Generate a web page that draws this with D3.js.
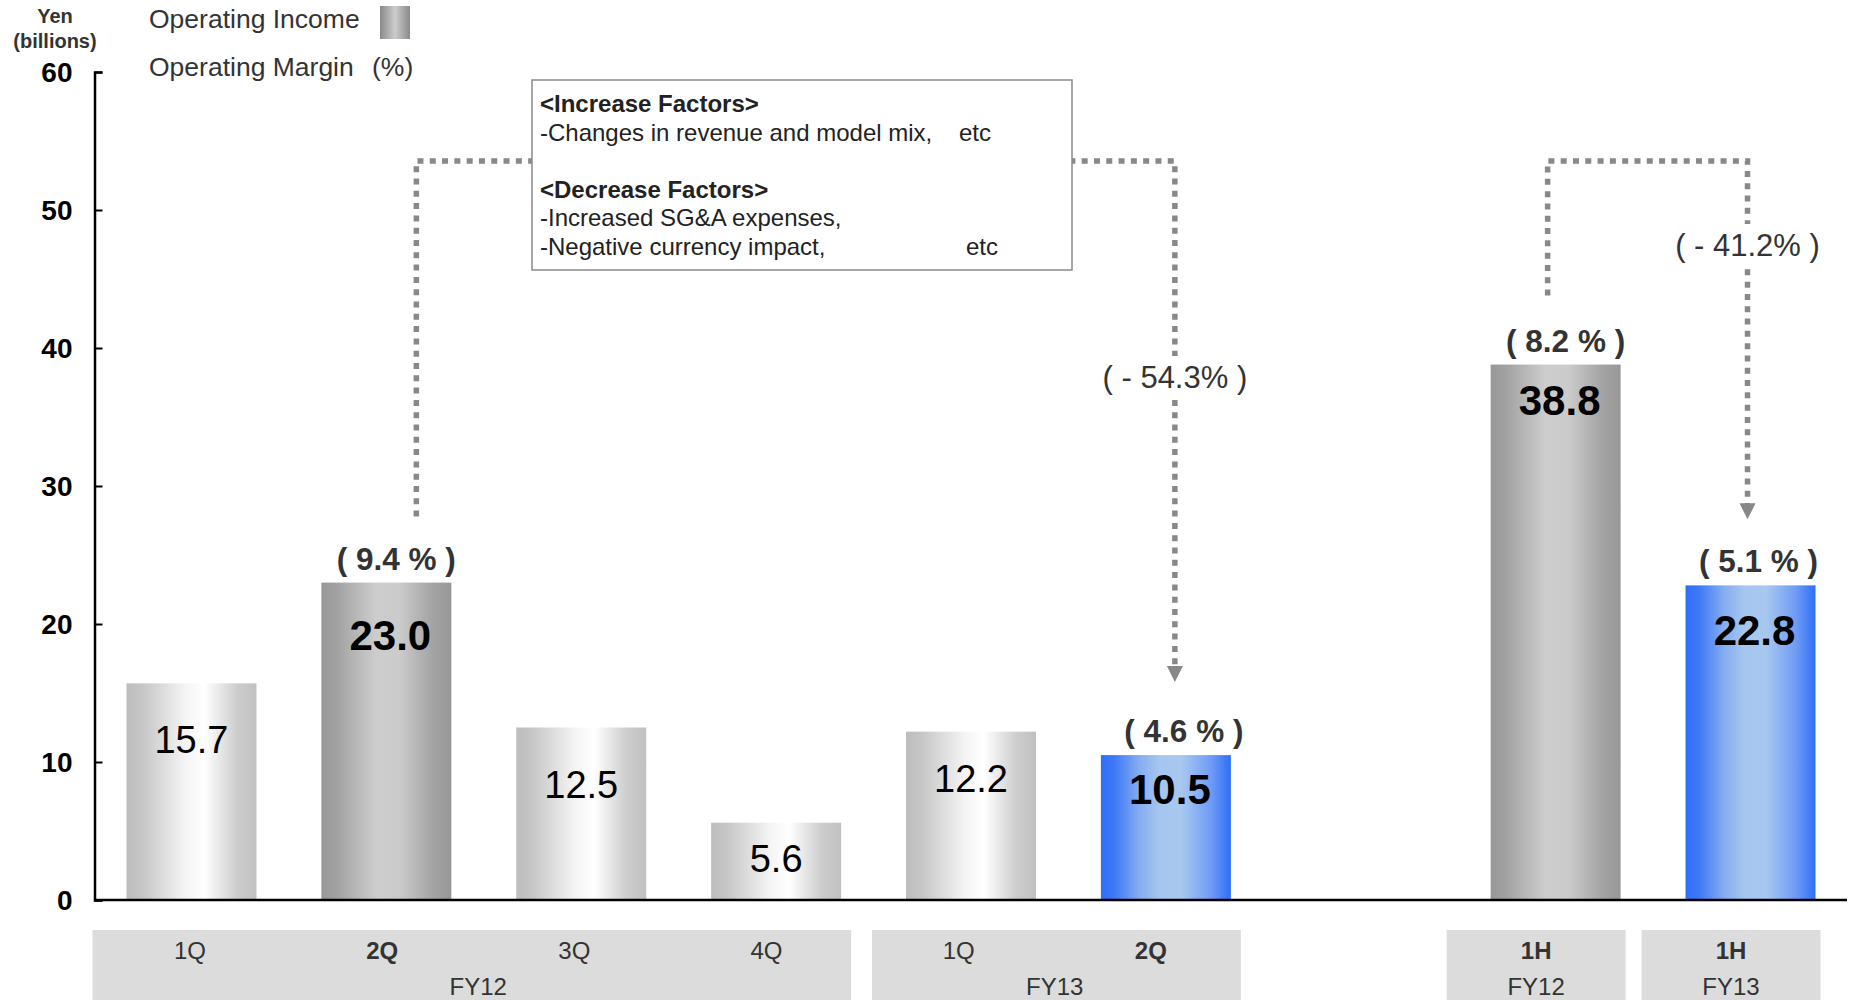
<!DOCTYPE html>
<html>
<head>
<meta charset="utf-8">
<script src="https://cdn.jsdelivr.net/npm/d3@7"></script>
<style>
  html, body { margin: 0; padding: 0; background: #fff; }
  svg { display: block; font-family: "Liberation Sans", Arial, sans-serif; }
</style>
</head>
<body>
<svg id="chart" width="1854" height="1000"></svg>
<script>
// Operating income by period (yen, billions) and operating margin (%)
const periods         = ["1Q", "2Q", "3Q", "4Q", "1Q", "2Q", "1H", "1H"];
const fiscalYears     = ["FY12", "FY12", "FY12", "FY12", "FY13", "FY13", "FY12", "FY13"];
const spans           = ["quarter", "quarter", "quarter", "quarter", "quarter", "quarter", "half", "half"];
const operatingIncome = [15.7, 23.0, 12.5, 5.6, 12.2, 10.5, 38.8, 22.8];
const operatingMargin = [null, 9.4, null, null, null, 4.6, 8.2, 5.1];
// which periods are compared year on year
const comparison      = ["", "prior", "", "", "", "current", "prior", "current"];

const yTicks = [0, 10, 20, 30, 40, 50, 60];

// year-on-year change arrows
const changeFrom = ["FY12 2Q", "FY12 1H"];
const changeTo   = ["FY13 2Q", "FY13 1H"];
const changePct  = [-54.3, -41.2];

const increaseFactors = ["Changes in revenue and model mix,"];
const decreaseFactors = ["Increased SG&A expenses,", "Negative currency impact,"];

const rows = periods.map((p, i) => ({
  id: fiscalYears[i] + " " + p,
  period: p,
  fy: fiscalYears[i],
  span: spans[i],
  value: operatingIncome[i],
  margin: operatingMargin[i],
  role: comparison[i]
}));

// slot order: quarters, an empty slot, then half-years
const slots = [
  ...rows.filter(d => d.span === "quarter").map(d => d.id),
  "spacer",
  ...rows.filter(d => d.span === "half").map(d => d.id)
];

const svg = d3.select("#chart");
const x = d3.scaleBand().domain(slots).range([107, 1835]).paddingInner(0.333).paddingOuter(0.1);
const y = d3.scaleLinear().domain([0, 60]).range([900, 72]);
const cx = id => x(id) + x.bandwidth() / 2;
const byId = new Map(rows.map(d => [d.id, d]));

// gradients
const defs = svg.append("defs");
const gradients = {
  light: [[0, "#bdbdbd"], [0.12, "#c6c6c6"], [0.45, "#f4f4f4"], [0.6, "#ffffff"], [0.85, "#cdcdcd"], [1, "#c1c1c1"]],
  dark:  [[0, "#989898"], [0.12, "#a2a2a2"], [0.42, "#cdcdcd"], [0.6, "#cbcbcb"], [0.86, "#a3a3a3"], [1, "#979797"]],
  blue:  [[0, "#2e6ef8"], [0.1, "#3d78f6"], [0.3, "#86aef0"], [0.45, "#a6c6ef"], [0.62, "#a8c8f0"], [0.85, "#6f9bf5"], [1, "#2e6ef8"]],
  swatch:[[0, "#8a8a8a"], [0.5, "#cccccc"], [1, "#8a8a8a"]]
};
Object.entries(gradients).forEach(([name, stops]) => {
  const g = defs.append("linearGradient").attr("id", "g-" + name)
    .attr("x1", 0).attr("x2", 1).attr("y1", 0).attr("y2", 0);
  stops.forEach(([o, c]) => g.append("stop").attr("offset", o).attr("stop-color", c));
});
const fillFor = d => d.role === "prior" ? "url(#g-dark)" : d.role === "current" ? "url(#g-blue)" : "url(#g-light)";

// bars
svg.append("g").selectAll("rect").data(rows).join("rect")
  .attr("x", d => x(d.id))
  .attr("y", d => y(d.value))
  .attr("width", x.bandwidth())
  .attr("height", d => y(0) - y(d.value))
  .attr("fill", fillFor);

// value labels inside bars
const valueDrop = { "FY12 1Q": 70, "FY12 2Q": 67, "FY12 3Q": 70, "FY12 4Q": 49, "FY13 1Q": 60, "FY13 2Q": 49, "FY12 1H": 50, "FY13 1H": 60 };
svg.append("g").selectAll("text").data(rows).join("text")
  .attr("x", d => cx(d.id) + (d.role ? 4 : 0))
  .attr("y", d => y(d.value) + valueDrop[d.id])
  .attr("text-anchor", "middle")
  .attr("font-size", d => d.role ? 42 : 38)
  .attr("font-weight", d => d.role ? "bold" : "normal")
  .attr("fill", "#000")
  .text(d => d.value.toFixed(1));

// margin labels above bars
const marginShift = { "FY12 2Q": 10, "FY13 2Q": 18, "FY12 1H": 10, "FY13 1H": 8 };
svg.append("g").selectAll("text").data(rows.filter(d => d.margin != null)).join("text")
  .attr("x", d => cx(d.id) + marginShift[d.id])
  .attr("y", d => y(d.value) - 13)
  .attr("text-anchor", "middle")
  .attr("font-size", 31.5)
  .attr("font-weight", "bold")
  .attr("fill", "#333")
  .style("white-space", "pre")
  .text(d => "( " + d.margin.toFixed(1) + " % )");

// y axis
const yAxis = d3.axisLeft(y).tickValues(yTicks).tickSizeInner(-8).tickSizeOuter(-8).tickPadding(22);
const gy = svg.append("g").attr("transform", "translate(94.5,0)").call(yAxis);
gy.select(".domain").attr("stroke", "#000").attr("stroke-width", 2.5);
gy.selectAll(".tick line").attr("stroke", "#000").attr("stroke-width", 2);
gy.selectAll(".tick text")
  .attr("font-family", "Liberation Sans, Arial, sans-serif")
  .attr("font-size", 28).attr("font-weight", "bold").attr("fill", "#000")
  .attr("dy", "0.33em");

// baseline
svg.append("line").attr("x1", 94.5).attr("x2", 1847).attr("y1", y(0)).attr("y2", y(0))
  .attr("stroke", "#000").attr("stroke-width", 2.5);

// unit label
const unit = svg.append("text").attr("text-anchor", "middle").attr("font-size", 20)
  .attr("font-weight", "bold").attr("fill", "#333");
unit.append("tspan").attr("x", 55).attr("y", 23).text("Yen");
unit.append("tspan").attr("x", 55).attr("y", 48).text("(billions)");

// legend
svg.append("text").attr("x", 149).attr("y", 28).attr("font-size", 26.5).attr("fill", "#333").text("Operating Income");
svg.append("rect").attr("x", 380).attr("y", 6).attr("width", 30).attr("height", 33).attr("fill", "url(#g-swatch)");
svg.append("text").attr("x", 149).attr("y", 76).attr("font-size", 26.5).attr("fill", "#333").text("Operating Margin");
svg.append("text").attr("x", 372).attr("y", 76).attr("font-size", 26.5).attr("fill", "#333").text("(%)");

// category boxes along the bottom
const groups = d3.groups(rows, d => d.span + "|" + d.fy).map(([key, items]) => {
  const first = items[0], last = items[items.length - 1];
  const isQuarter = first.span === "quarter";
  const left = x(first.id) - (isQuarter ? 34 : 44);
  const right = x(last.id) + x.bandwidth() + (isQuarter ? 10 : 5);
  return { key, items, left, right, fy: first.fy, isQuarter };
});
// period labels in the quarter boxes run on a slightly tighter pitch than the bars
const periodLabelX = d => cx(d.id) - 1.5 - 2.7 * slots.indexOf(d.id);
const gBox = svg.append("g");
groups.forEach(g => {
  gBox.append("rect").attr("x", g.left).attr("y", 930).attr("width", g.right - g.left).attr("height", 70)
    .attr("fill", "#dcdcdc");
  const xs = g.items.map(d => g.isQuarter ? periodLabelX(d) : (g.left + g.right) / 2);
  g.items.forEach((d, i) => {
    gBox.append("text")
      .attr("x", xs[i])
      .attr("y", 959).attr("text-anchor", "middle").attr("font-size", 24)
      .attr("font-weight", d.role ? "bold" : "normal").attr("fill", "#333")
      .text(d.period);
  });
  gBox.append("text").attr("x", d3.mean(xs)).attr("y", 995)
    .attr("text-anchor", "middle").attr("font-size", 24).attr("fill", "#333").text(g.fy);
});

// change connectors
const connectorY = 161;
const connectorLayout = [
  { fromShift: 30, toShift: 9, startDrop: 66, tipDrop: 73, labelY: 388 },
  { fromShift: -8, toShift: -3, startDrop: 69, tipDrop: 66, labelY: 256 }
];
const dotted = { stroke: "#888", "stroke-width": 5.5, "stroke-dasharray": "6 6.3", fill: "none" };
const gConn = svg.append("g");
changeFrom.forEach((fromId, i) => {
  const L = connectorLayout[i];
  const from = byId.get(fromId), to = byId.get(changeTo[i]);
  const x0 = cx(fromId) + L.fromShift, x1 = cx(changeTo[i]) + L.toShift;
  const yStart = y(from.value) - L.startDrop;
  const yTip = y(to.value) - L.tipDrop;
  const path = gConn.append("path")
    .attr("d", `M${x0},${yStart}V${connectorY}H${x1}V${yTip - 15}`);
  Object.entries(dotted).forEach(([k, v]) => path.attr(k, v));
  gConn.append("path")
    .attr("d", `M${x1 - 8},${yTip - 16}L${x1 + 8},${yTip - 16}L${x1},${yTip}Z`)
    .attr("fill", "#888");
  const label = gConn.append("text").attr("x", x1).attr("y", L.labelY)
    .attr("text-anchor", "middle").attr("font-size", 31).attr("fill", "#333")
    .style("white-space", "pre")
    .text("( - " + Math.abs(changePct[i]).toFixed(1) + "% )");
  const bb = label.node().getBBox();
  gConn.insert("rect", "text:last-child")
    .attr("x", bb.x - 4).attr("y", bb.y - 4).attr("width", bb.width + 8).attr("height", bb.height + 8)
    .attr("fill", "#fff");
  label.raise();
});

// factors box
const box = svg.append("g");
box.append("rect").attr("x", 532).attr("y", 80).attr("width", 540).attr("height", 190)
  .attr("fill", "#fff").attr("stroke", "#8a8a8a").attr("stroke-width", 1.5);
const lineStep = 28.6;
let ty = 112;
box.append("text").attr("x", 540).attr("y", ty).attr("font-size", 24).attr("font-weight", "bold")
  .attr("fill", "#222").text("<Increase Factors>");
increaseFactors.forEach((t, i) => {
  ty += lineStep;
  box.append("text").attr("x", 540).attr("y", ty).attr("font-size", 24).attr("fill", "#222").text("-" + t);
  if (i === increaseFactors.length - 1)
    box.append("text").attr("x", 959).attr("y", ty).attr("font-size", 24).attr("fill", "#222").text("etc");
});
ty += lineStep * 2;
box.append("text").attr("x", 540).attr("y", ty).attr("font-size", 24).attr("font-weight", "bold")
  .attr("fill", "#222").text("<Decrease Factors>");
decreaseFactors.forEach((t, i) => {
  ty += lineStep;
  box.append("text").attr("x", 540).attr("y", ty).attr("font-size", 24).attr("fill", "#222").text("-" + t);
  if (i === decreaseFactors.length - 1)
    box.append("text").attr("x", 966).attr("y", ty).attr("font-size", 24).attr("fill", "#222").text("etc");
});
</script>
</body>
</html>
